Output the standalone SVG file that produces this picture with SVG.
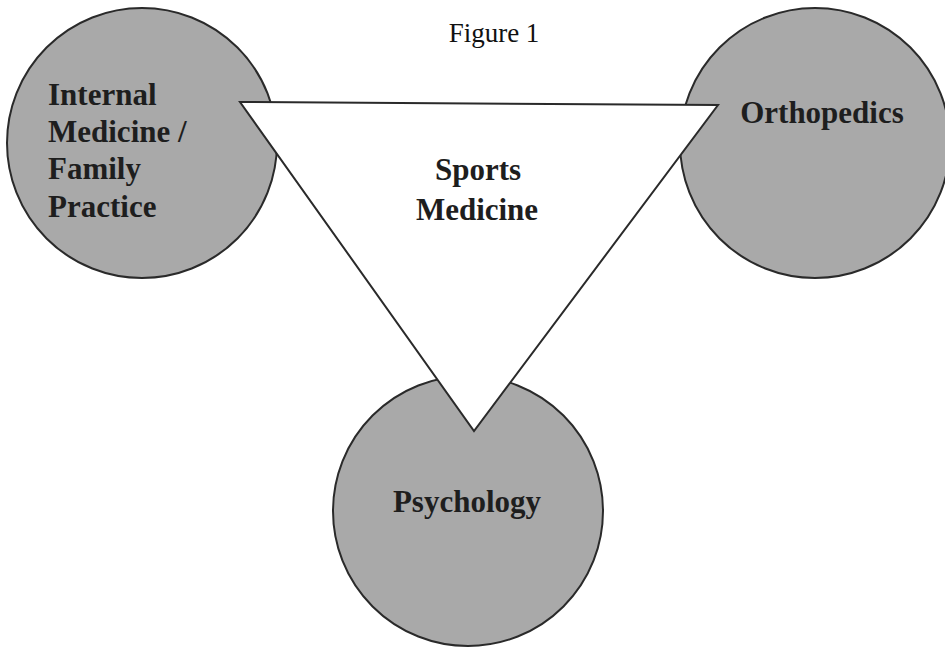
<svg xmlns="http://www.w3.org/2000/svg" width="945" height="650" viewBox="0 0 945 650">
<style>
.circ{fill:#a9a9a9;stroke:#2a2a2a;stroke-width:2}
.tri{fill:#ffffff;stroke:#2a2a2a;stroke-width:2;stroke-linejoin:miter}
.lbl{font-family:"Liberation Serif","Times New Roman",serif;font-weight:bold;font-size:31px;fill:#1e1e1e}
.title{font-family:"Liberation Serif","Times New Roman",serif;font-size:27px;fill:#111}
</style>
<rect width="945" height="650" fill="#ffffff"/>
<text class="title" x="494" y="42" text-anchor="middle">Figure 1</text>
<g id="internal-medicine">
<circle class="circ" cx="142" cy="143" r="135"/>
<text class="lbl" x="48" y="105">Internal</text>
<text class="lbl" x="48" y="142">Medicine /</text>
<text class="lbl" x="48" y="179">Family</text>
<text class="lbl" x="48" y="217">Practice</text>
</g>
<g id="orthopedics">
<circle class="circ" cx="815" cy="143" r="135"/>
<text class="lbl" x="822" y="123" text-anchor="middle">Orthopedics</text>
</g>
<g id="psychology">
<circle class="circ" cx="468" cy="511" r="135"/>
<text class="lbl" x="467" y="512" text-anchor="middle">Psychology</text>
</g>
<g id="connectors"></g>
<g id="sports-medicine">
<polygon class="tri" points="240,102 718,105 474,431"/>
<text class="lbl" x="478" y="180" text-anchor="middle">Sports</text>
<text class="lbl" x="477" y="220" text-anchor="middle">Medicine</text>
</g>
</svg>
